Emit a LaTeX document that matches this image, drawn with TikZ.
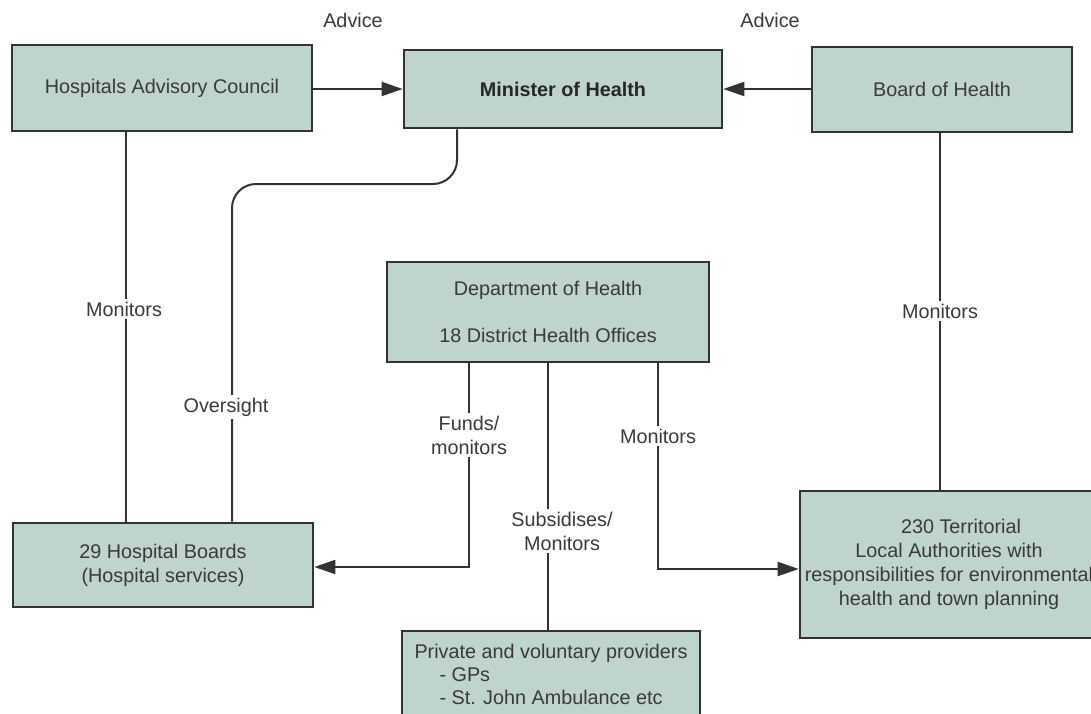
\documentclass[tikz,border=0pt]{standalone}
\usepackage{fontspec}
\setmainfont{Liberation Sans}
\usetikzlibrary{arrows.meta,calc}
\definecolor{boxfill}{HTML}{BFD3CF}
\definecolor{ink}{HTML}{333333}
\definecolor{txt}{HTML}{3A3A3A}
\begin{document}
\begin{tikzpicture}[x=0.5pt,y=-0.5pt,
  orgbox/.style={draw=ink, line width=1.3pt, fill=boxfill, text=txt, align=center,
    inner sep=0pt, font=\fontsize{9.9}{12}\selectfont},
  link/.style={draw=ink, line width=1pt},
  arr/.style={link, -{Triangle[length=10.5pt,width=7pt]}},
  lbl/.style={fill=white, text=txt, align=center, inner sep=1.5pt,
    font=\fontsize{9.9}{12}\selectfont}]
\useasboundingbox (0,0) rectangle (1091,713);
\clip (0,0) rectangle (1091,713);

% organisations
\node[orgbox, minimum width=150pt, minimum height=43pt] (hac) at (162,88) {Hospitals Advisory Council};
\node[orgbox, minimum width=159pt, minimum height=39pt, text=black!85,
  font=\bfseries\fontsize{9.9}{12}\selectfont] (min) at (563,89) {Minister of Health};
\node[orgbox, minimum width=130pt, minimum height=42.5pt] (boh) at (942,89.5) {Board of Health};
\node[orgbox, minimum width=161pt, minimum height=50pt] (doh) at (548,312)
  {Department of Health\\[11.5pt]18 District Health Offices};
\node[orgbox, minimum width=150pt, minimum height=42pt] (hb) at (163,565)
  {29 Hospital Boards\\(Hospital services)};
\node[orgbox, minimum width=149pt, minimum height=73.5pt] (tla) at (949,564.5)
  {\hspace*{12pt}230 Territorial\\Local Authorities with\\responsibilities for environmental\\health and town planning};
\node[orgbox, align=left, minimum width=149pt, minimum height=43pt,
  font=\fontsize{9.9}{11.5}\selectfont] (pvp) at (551,674)
  {Private and voluntary providers\\\hspace*{12.5pt}- GPs\\\hspace*{12.5pt}- St. John Ambulance etc};

% advice to the minister
\draw[arr] (hac.east |- min.west) -- (min.west);
\draw[arr] (boh.west |- min.east) -- (min.east);

% monitoring and oversight of the hospital boards
\coordinate (hm) at ([xshift=-18pt]hac.south);
\draw[link] (hm) -- (hm |- hb.north);
\coordinate (ovy) at (0,184);
\coordinate (ov1) at ([xshift=-53pt]min.south);
\coordinate (ov2) at ([xshift=34.5pt]hb.north);
\draw[link, rounded corners=12pt] (ov1) -- (ov1 |- ovy) -- (ov2 |- ovy) -- (ov2);

% department of health links
\coordinate (f1) at ([xshift=-39.5pt]doh.south);
\coordinate (hbin) at ([yshift=-1pt]hb.east);
\draw[arr] (f1) -- (f1 |- hbin) -- (hbin);
\draw[link] (doh.south) -- (doh.south |- pvp.north);
\coordinate (m3) at ([xshift=55pt]doh.south);
\coordinate (tin) at ([yshift=-2.25pt]tla.west);
\draw[arr] (m3) -- (m3 |- tin) -- (tin);

% board of health monitors local authorities
\coordinate (bm) at ([xshift=-1pt]boh.south);
\draw[link] (bm) -- (bm |- tla.north);

% labels
\node[lbl] (advL) at (353,20) {Advice};
\node[lbl] (advR) at (770,20) {Advice};
\node[lbl] (monL) at (124,309) {Monitors};
\node[lbl] (ovs) at (226,407) {Oversight};
\node[lbl] (fund) at (469,435) {Funds/\\monitors};
\node[lbl] (subs) at (562,531) {Subsidises/\\Monitors};
\node[lbl] (monC) at (658,436) {Monitors};
\node[lbl] (monR) at (940,311) {Monitors};
\end{tikzpicture}
\end{document}
